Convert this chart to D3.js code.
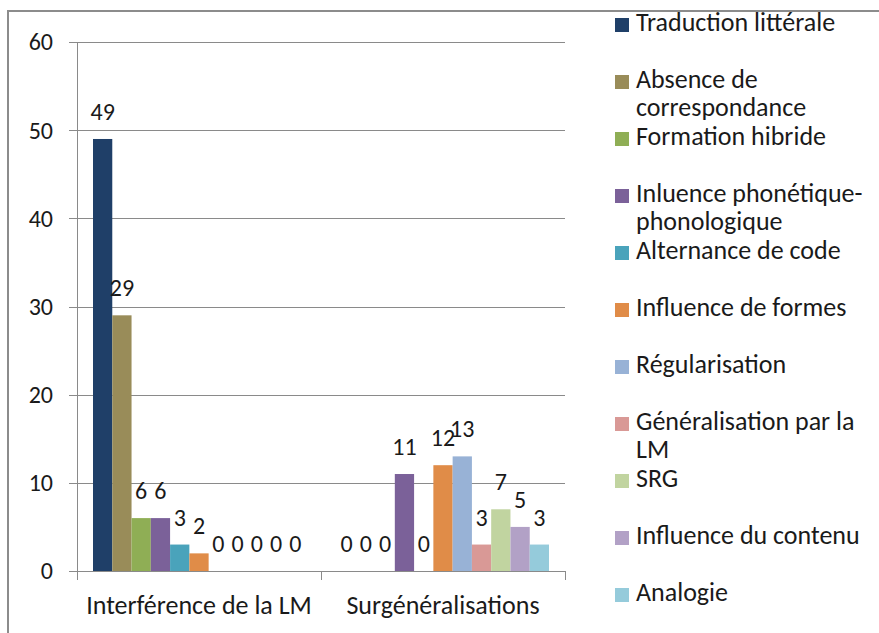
<!DOCTYPE html>
<html>
<head>
    <meta charset="utf-8">
    <title>Interférence / Surgénéralisations</title>
    <style>
        body { margin: 0; background: #fff; }
        svg text {
            font-family: Carlito, Calibri, Lato, sans-serif;
            font-size: 26px;
            fill: #1a1a1a;
        }
        svg text.num { font-size: 24px; }
        .grid line, .axis line { stroke: #8a8a8a; stroke-width: 1px; shape-rendering: crispEdges; }
    </style>
    <script src="https://d3js.org/d3.v7.min.js"></script>
</head>
<body>
<div id="chart"></div>
<script>
    // categories on the x axis
    const categories = ['Interférence de la LM', 'Surgénéralisations'];

    // series (legend order), wrapped legend lines
    const series = [
        ['Traduction littérale'],
        ['Absence de', 'correspondance'],
        ['Formation hibride'],
        ['Inluence phonétique-', 'phonologique'],
        ['Alternance de code'],
        ['Influence de formes'],
        ['Régularisation'],
        ['Généralisation par la', 'LM'],
        ['SRG'],
        ['Influence du contenu'],
        ['Analogie']
    ];

    const interferenceValues = [49, 29, 6, 6, 3, 2, 0, 0, 0, 0, 0];
    const surgenValues       = [0, 0, 0, 11, 0, 12, 13, 3, 7, 5, 3];

    const yTicks = [0, 10, 20, 30, 40, 50, 60];

    const colors = ['#1f3f68', '#998c59', '#8fae55', '#7b6199', '#4aa3bb', '#e08c48',
                    '#98b2d6', '#d99996', '#c1d4a0', '#b2a1c6', '#95cbdb'];

    const width = 879, height = 633;
    const plot = {left: 77, right: 565, top: 42, bottom: 571};

    const svg = d3.select('#chart').append('svg')
            .attr('width', width)
            .attr('height', height);

    // outer frame (cropped on right / bottom like the original)
    svg.append('rect')
            .attr('x', 8).attr('y', 11)
            .attr('width', width + 10).attr('height', height + 10)
            .attr('fill', 'none')
            .attr('stroke', '#8c8c8c')
            .attr('stroke-width', 2);

    const y = d3.scaleLinear().domain([0, 60]).range([plot.bottom, plot.top]);

    const x0 = d3.scaleBand()
            .domain(categories)
            .range([plot.left, plot.right]);

    const x1 = d3.scaleBand()
            .domain(d3.range(series.length))
            .range([16, x0.bandwidth() - 16]);

    const color = d3.scaleOrdinal().domain(d3.range(series.length)).range(colors);

    // gridlines
    svg.append('g').attr('class', 'grid')
            .selectAll('line')
            .data(yTicks)
            .join('line')
            .attr('x1', plot.left - 8)
            .attr('x2', plot.right)
            .attr('y1', d => Math.round(y(d)) + 0.5)
            .attr('y2', d => Math.round(y(d)) + 0.5);

    // y axis line
    const axis = svg.append('g').attr('class', 'axis');
    axis.append('line')
            .attr('x1', plot.left + 0.5).attr('x2', plot.left + 0.5)
            .attr('y1', plot.top).attr('y2', plot.bottom + 9);

    // category ticks under the axis
    axis.selectAll('line.cat')
            .data(categories)
            .join('line')
            .attr('class', 'cat')
            .attr('x1', d => Math.round(x0(d) + x0.bandwidth()) + 0.5)
            .attr('x2', d => Math.round(x0(d) + x0.bandwidth()) + 0.5)
            .attr('y1', plot.bottom)
            .attr('y2', plot.bottom + 9);

    svg.append('g')
            .selectAll('text')
            .data(yTicks)
            .join('text')
            .attr('class', 'num')
            .attr('x', 53)
            .attr('y', d => y(d))
            .attr('dy', '0.35em')
            .attr('text-anchor', 'end')
            .text(d => d);

    svg.append('g')
            .selectAll('text')
            .data(categories)
            .join('text')
            .attr('x', d => x0(d) + x0.bandwidth() / 2)
            .attr('y', 614)
            .attr('text-anchor', 'middle')
            .text(d => d);

    // bars
    const rows = categories.map((c, ci) => ({
        cat: c,
        values: (ci === 0 ? interferenceValues : surgenValues).map((v, i) => ({i: i, v: v}))
    }));

    const group = svg.append('g')
            .selectAll('g')
            .data(rows)
            .join('g')
            .attr('transform', d => `translate(${x0(d.cat)},0)`);

    group.selectAll('rect')
            .data(d => d.values)
            .join('rect')
            .attr('x', d => x1(d.i))
            .attr('width', x1.bandwidth())
            .attr('y', d => y(d.v))
            .attr('height', d => y(0) - y(d.v))
            .attr('fill', d => color(d.i));

    group.selectAll('text')
            .data(d => d.values)
            .join('text')
            .attr('class', 'num')
            .attr('x', d => x1(d.i) + x1.bandwidth() / 2)
            .attr('y', d => y(d.v) - 19)
            .attr('text-anchor', 'middle')
            .text(d => d.v);

    // legend
    const legend = svg.append('g')
            .selectAll('g')
            .data(series)
            .join('g')
            .attr('transform', (d, i) => `translate(615,${31 + i * 57})`);

    legend.append('rect')
            .attr('x', 0).attr('y', -13)
            .attr('width', 14).attr('height', 14)
            .attr('fill', (d, i) => color(i));

    legend.append('text')
            .attr('x', 21)
            .selectAll('tspan')
            .data(d => d)
            .join('tspan')
            .attr('x', 21)
            .attr('dy', (d, i) => i ? 28 : 0)
            .text(d => d);
</script>
</body>
</html>
